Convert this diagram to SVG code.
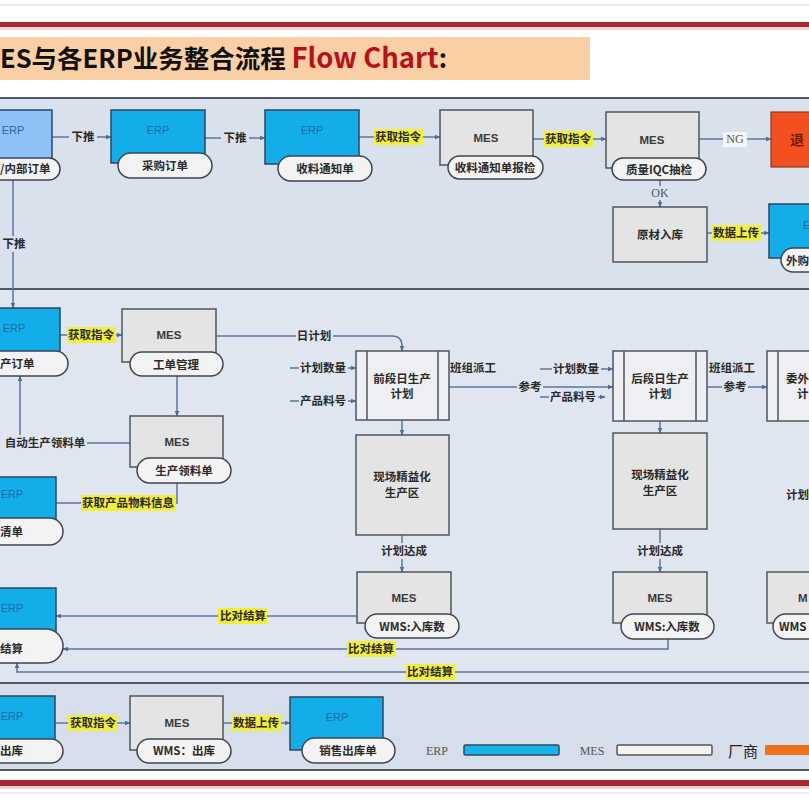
<svg xmlns="http://www.w3.org/2000/svg" width="809" height="810" viewBox="0 0 809 810">
<defs>
<marker id="ah" viewBox="0 0 10 10" refX="9" refY="5" markerWidth="6" markerHeight="6" orient="auto-start-reverse" markerUnits="userSpaceOnUse"><path d="M0,1 L10,5 L0,9 z" fill="#4E6C94"/></marker>
<style>
.erp{fill:#13AEEA;stroke:#2C4560;stroke-width:1.5}
.erpl{fill:#8EC1F5;stroke:#2C4560;stroke-width:1.5}
.mes{fill:#E4E4E4;stroke:#4E5660;stroke-width:1.5}
.pill{fill:#F3F3F3;stroke:#3C4652;stroke-width:1.5}
.org{fill:#F2511F;stroke:#8A3A20;stroke-width:1.2}
.pp{fill:#EDEFF2;stroke:#4E5660;stroke-width:1.5}
.t{font-family:"Noto Sans CJK SC",sans-serif;font-size:11.5px;font-weight:700;fill:#2A2A2A}
.c{text-anchor:middle}
.he{font-family:"Liberation Sans",sans-serif;font-size:11px;fill:#2468A8;text-anchor:middle}
.hm{font-family:"Liberation Sans",sans-serif;font-size:11.5px;font-weight:700;fill:#3A3A3A;text-anchor:middle}
.sf{font-family:"Liberation Serif",serif;font-size:12px;fill:#555;text-anchor:middle}
.conn{stroke:#5B769A;stroke-width:1.5;fill:none}
.ar{marker-end:url(#ah)}
.hl{fill:#F2EF3A}
.bg1{fill:#D9E1ED}
.bg2{fill:#E0E6F0}
.bg3{fill:#D6DEEB}
</style>
</defs>
<rect x="0" y="0" width="809" height="810" fill="#FFFFFF"/>
<line x1="0" y1="5" x2="809" y2="5" stroke="#E6E6E6" stroke-width="1.5"/>
<rect x="0" y="22" width="809" height="5" fill="#A8262E"/>
<rect x="0" y="27" width="809" height="3" fill="#F3D3D5"/>
<g id="title">
<rect x="0" y="37" width="590" height="43" fill="#FBCFA4"/>
<text x="0" y="68" font-family="'Noto Sans CJK SC',sans-serif" font-size="25.5" font-weight="700" fill="#111">ES与各ERP业务整合流程 <tspan fill="#B5121B" font-size="27.5">Flow Chart</tspan>:</text>
</g>
<g id="panels">
<rect x="-5" y="98" width="820" height="191" class="bg1" stroke="#4F5863" stroke-width="2"/>
<rect x="-5" y="289" width="820" height="394" class="bg2" stroke="#4F5863" stroke-width="2"/>
<rect x="-5" y="683" width="820" height="87" class="bg3" stroke="#4F5863" stroke-width="2"/>
</g>
<rect x="0" y="780" width="809" height="6" fill="#A8262E"/>
<rect x="0" y="786" width="809" height="3" fill="#F3D3D5"/>
<line x1="0" y1="793" x2="809" y2="793" stroke="#EDE3E3" stroke-width="1.5"/>

<g id="connectors">
<line class="conn ar" x1="52" y1="137" x2="111" y2="137"/>
<line class="conn ar" x1="205" y1="138" x2="265" y2="138"/>
<line class="conn ar" x1="359" y1="137" x2="440" y2="137"/>
<line class="conn ar" x1="533" y1="139" x2="606" y2="139"/>
<line class="conn ar" x1="699" y1="139" x2="771" y2="139"/>
<line class="conn ar" x1="660" y1="180" x2="660" y2="207"/>
<line class="conn ar" x1="707" y1="233" x2="769" y2="233"/>
<line class="conn ar" x1="13" y1="180" x2="13" y2="308"/>
<line class="conn ar" x1="60" y1="335" x2="122" y2="335"/>
<line class="conn ar" x1="177" y1="376" x2="177" y2="416"/>
<path class="conn ar" d="M130,443 H20 V376"/>
<path class="conn" d="M177,483 V503 H56"/>
<path class="conn ar" d="M216,336 H392 Q402,336 402,346 V351"/>
<line class="conn ar" x1="290" y1="368" x2="356" y2="368"/>
<line class="conn ar" x1="290" y1="401" x2="356" y2="401"/>
<line class="conn ar" x1="449" y1="387" x2="613" y2="387"/>
<line class="conn ar" x1="540" y1="369" x2="613" y2="369"/>
<line class="conn ar" x1="540" y1="397" x2="605" y2="397"/>
<line class="conn ar" x1="707" y1="387" x2="767" y2="387"/>
<line class="conn ar" x1="402" y1="420" x2="402" y2="435"/>
<line class="conn ar" x1="660" y1="421" x2="660" y2="433"/>
<line class="conn ar" x1="402" y1="535" x2="402" y2="572"/>
<line class="conn ar" x1="660" y1="529" x2="660" y2="572"/>
<line class="conn ar" x1="357" y1="616" x2="56" y2="616"/>
<path class="conn ar" d="M668,639 V649 H63"/>
<path class="conn ar" d="M830,672 H17 V663"/>
<line class="conn ar" x1="55" y1="723" x2="130" y2="723"/>
<line class="conn ar" x1="223" y1="723" x2="290" y2="723"/>

<rect x="69" y="129" width="28" height="16" class="bg1"/><text class="t c" x="83" y="141">下推</text>
<rect x="221" y="130" width="28" height="16" class="bg1"/><text class="t c" x="235" y="142">下推</text>
<rect x="374" y="129" width="49" height="16" class="hl"/><text class="t c" x="398" y="141">获取指令</text>
<rect x="544" y="131" width="49" height="16" class="hl"/><text class="t c" x="568" y="143">获取指令</text>
<rect x="723" y="132" width="24" height="15" fill="#F4F6FA"/><text class="sf" x="735" y="143">NG</text>
<rect x="650" y="186" width="20" height="14" class="bg1"/><text class="sf" x="660" y="197">OK</text>
<rect x="712" y="225" width="49" height="16" class="hl"/><text class="t c" x="736" y="237">数据上传</text>
<rect x="0" y="236" width="28" height="16" class="bg1"/><text class="t c" x="14" y="248">下推</text>
<rect x="67" y="327" width="49" height="16" class="hl"/><text class="t c" x="91" y="339">获取指令</text>
<rect x="3" y="435" width="84" height="16" class="bg2"/><text class="t c" x="45" y="447">自动生产领料单</text>
<rect x="81" y="495" width="95" height="16" class="hl"/><text class="t c" x="128" y="507">获取产品物料信息</text>
<rect x="296" y="328" width="37" height="16" class="bg2"/><text class="t c" x="314" y="340">日计划</text>
<rect x="299" y="360" width="49" height="16" class="bg2"/><text class="t c" x="323" y="372">计划数量</text>
<rect x="299" y="393" width="49" height="16" class="bg2"/><text class="t c" x="323" y="405">产品料号</text>
<text class="t c" x="473" y="372">班组派工</text>
<rect x="517" y="379" width="26" height="16" class="bg2"/><text class="t c" x="530" y="391">参考</text>
<rect x="552" y="361" width="49" height="16" class="bg2"/><text class="t c" x="576" y="373">计划数量</text>
<rect x="549" y="389" width="49" height="16" class="bg2"/><text class="t c" x="573" y="401">产品料号</text>
<text class="t c" x="732" y="372">班组派工</text>
<rect x="722" y="379" width="26" height="16" class="bg2"/><text class="t c" x="735" y="391">参考</text>
<rect x="379" y="543" width="49" height="16" class="bg2"/><text class="t c" x="404" y="555">计划达成</text>
<rect x="636" y="543" width="49" height="16" class="bg2"/><text class="t c" x="660" y="555">计划达成</text>
<text class="t" x="786" y="499">计划</text>
<rect x="218" y="608" width="49" height="16" class="hl"/><text class="t c" x="243" y="620">比对结算</text>
<rect x="347" y="641" width="49" height="16" class="hl"/><text class="t c" x="371" y="653">比对结算</text>
<rect x="406" y="664" width="49" height="16" class="hl"/><text class="t c" x="430" y="676">比对结算</text>
<rect x="68" y="715" width="49" height="16" class="hl"/><text class="t c" x="93" y="727">获取指令</text>
<rect x="232" y="715" width="49" height="16" class="hl"/><text class="t c" x="256" y="727">数据上传</text>
</g>

<g id="nA"><rect class="erpl" x="-10" y="110" width="62" height="55"/><text class="he" x="13" y="134">ERP</text><rect class="pill" x="-20" y="158" width="80" height="22" rx="11"/><text class="t" x="0" y="173">/内部订单</text></g>
<g id="nB"><rect class="erp" x="111" y="110" width="94" height="53"/><text class="he" x="158" y="134">ERP</text><rect class="pill" x="118" y="153" width="94" height="25" rx="12.5"/><text class="t c" x="165" y="170">采购订单</text></g>
<g id="nC"><rect class="erp" x="265" y="110" width="94" height="54"/><text class="he" x="312" y="134">ERP</text><rect class="pill" x="278" y="156" width="94" height="25" rx="12.5"/><text class="t c" x="325" y="173">收料通知单</text></g>
<g id="nD"><rect class="mes" x="440" y="110" width="93" height="55"/><text class="hm" x="486" y="142">MES</text><rect class="pill" x="448" y="156" width="95" height="23" rx="11.5"/><text class="t c" x="495" y="172">收料通知单报检</text></g>
<g id="nE"><rect class="mes" x="606" y="112" width="93" height="56"/><text class="hm" x="652" y="144">MES</text><rect class="pill" x="612" y="158" width="94" height="22" rx="11"/><text class="t c" x="659" y="174">质量IQC抽检</text></g>
<g id="nF"><rect class="org" x="771" y="112" width="60" height="55"/><text x="790" y="145" font-family="'Noto Sans CJK SC',sans-serif" font-size="14" font-weight="700" fill="#6E1A05">退</text></g>
<g id="nG"><rect class="mes" x="613" y="207" width="94" height="55"/><text class="t c" x="660" y="239">原材入库</text></g>
<g id="nH"><rect class="erp" x="769" y="204" width="60" height="54"/><text class="he" x="803" y="229" style="text-anchor:start">E</text><rect class="pill" x="781" y="248" width="60" height="24" rx="12"/><text class="t" x="786" y="265">外购</text></g>

<g id="nI"><rect class="erp" x="-10" y="308" width="70" height="52"/><text class="he" x="14" y="332">ERP</text><rect class="pill" x="-20" y="351" width="88" height="25" rx="12.5"/><text class="t" x="0" y="368">产订单</text></g>
<g id="nJ"><rect class="mes" x="122" y="309" width="94" height="53"/><text class="hm" x="169" y="339">MES</text><rect class="pill" x="130" y="352" width="93" height="24" rx="12"/><text class="t c" x="176" y="369">工单管理</text></g>
<g id="nK"><rect class="mes" x="130" y="416" width="93" height="51"/><text class="hm" x="177" y="446">MES</text><rect class="pill" x="137" y="458" width="94" height="25" rx="12.5"/><text class="t c" x="184" y="475">生产领料单</text></g>
<g id="nL"><rect class="erp" x="-10" y="477" width="66" height="50"/><text class="he" x="12" y="498">ERP</text><rect class="pill" x="-20" y="518" width="83" height="27" rx="13.5"/><text class="t" x="0" y="536">清单</text></g>
<g id="nM"><rect class="pp" x="356" y="351" width="93" height="69"/><line x1="367" y1="351" x2="367" y2="420" stroke="#4E5660" stroke-width="1.5"/><line x1="438" y1="351" x2="438" y2="420" stroke="#4E5660" stroke-width="1.5"/><text class="t c" x="402" y="383">前段日生产</text><text class="t c" x="402" y="398">计划</text></g>
<g id="nN"><rect class="pp" x="613" y="351" width="94" height="70"/><line x1="624" y1="351" x2="624" y2="421" stroke="#4E5660" stroke-width="1.5"/><line x1="696" y1="351" x2="696" y2="421" stroke="#4E5660" stroke-width="1.5"/><text class="t c" x="660" y="383">后段日生产</text><text class="t c" x="660" y="398">计划</text></g>
<g id="nO"><rect class="pp" x="767" y="351" width="93" height="70"/><line x1="778" y1="351" x2="778" y2="421" stroke="#4E5660" stroke-width="1.5"/><text class="t" x="786" y="383">委外</text><text class="t" x="797" y="398">计</text></g>
<g id="nP"><rect class="mes" x="356" y="435" width="93" height="100"/><text class="t c" x="402" y="481">现场精益化</text><text class="t c" x="402" y="497">生产区</text></g>
<g id="nQ"><rect class="mes" x="613" y="433" width="94" height="96"/><text class="t c" x="660" y="479">现场精益化</text><text class="t c" x="660" y="495">生产区</text></g>
<g id="nR1"><rect class="mes" x="357" y="572" width="94" height="51"/><text class="hm" x="404" y="602">MES</text><rect class="pill" x="365" y="614" width="94" height="24" rx="12"/><text class="t c" x="412" y="631">WMS:入库数</text></g>
<g id="nR2"><rect class="mes" x="613" y="572" width="94" height="51"/><text class="hm" x="660" y="602">MES</text><rect class="pill" x="621" y="614" width="93" height="25" rx="12.5"/><text class="t c" x="667" y="631">WMS:入库数</text></g>
<g id="nR3"><rect class="mes" x="767" y="572" width="60" height="51"/><text class="hm" x="798" y="602" style="text-anchor:start">M</text><rect class="pill" x="773" y="614" width="60" height="25" rx="12.5"/><text class="t" x="779" y="631">WMS</text></g>
<g id="nS"><rect class="erp" x="-10" y="588" width="66" height="48"/><text class="he" x="12" y="612">ERP</text><rect class="pill" x="-20" y="629" width="83" height="34" rx="17"/><text class="t" x="0" y="653">结算</text></g>

<g id="nT"><rect class="erp" x="-10" y="696" width="65" height="52"/><text class="he" x="12" y="720">ERP</text><rect class="pill" x="-20" y="739" width="83" height="24" rx="12"/><text class="t" x="0" y="755">出库</text></g>
<g id="nU"><rect class="mes" x="130" y="696" width="93" height="54"/><text class="hm" x="177" y="727">MES</text><rect class="pill" x="137" y="739" width="94" height="24" rx="12"/><text class="t c" x="184" y="755">WMS：出库</text></g>
<g id="nV"><rect class="erp" x="290" y="697" width="93" height="53"/><text class="he" x="337" y="721">ERP</text><rect class="pill" x="302" y="738" width="93" height="25" rx="12.5"/><text class="t c" x="348" y="755">销售出库单</text></g>

<g id="legend">
<text class="sf" x="437" y="755">ERP</text>
<rect x="464" y="745" width="95" height="10" rx="1.5" fill="#19B4E8" stroke="#2A4A66" stroke-width="1.5"/>
<text class="sf" x="592" y="755">MES</text>
<rect x="617" y="745" width="95" height="10" rx="1.5" fill="#F2F2F2" stroke="#555" stroke-width="1.5"/>
<text x="728" y="757" font-family="'Noto Sans CJK SC',sans-serif" font-size="15" fill="#222">厂商</text>
<rect x="765" y="745" width="60" height="10" rx="1.5" fill="#F07020"/>
</g>
</svg>
